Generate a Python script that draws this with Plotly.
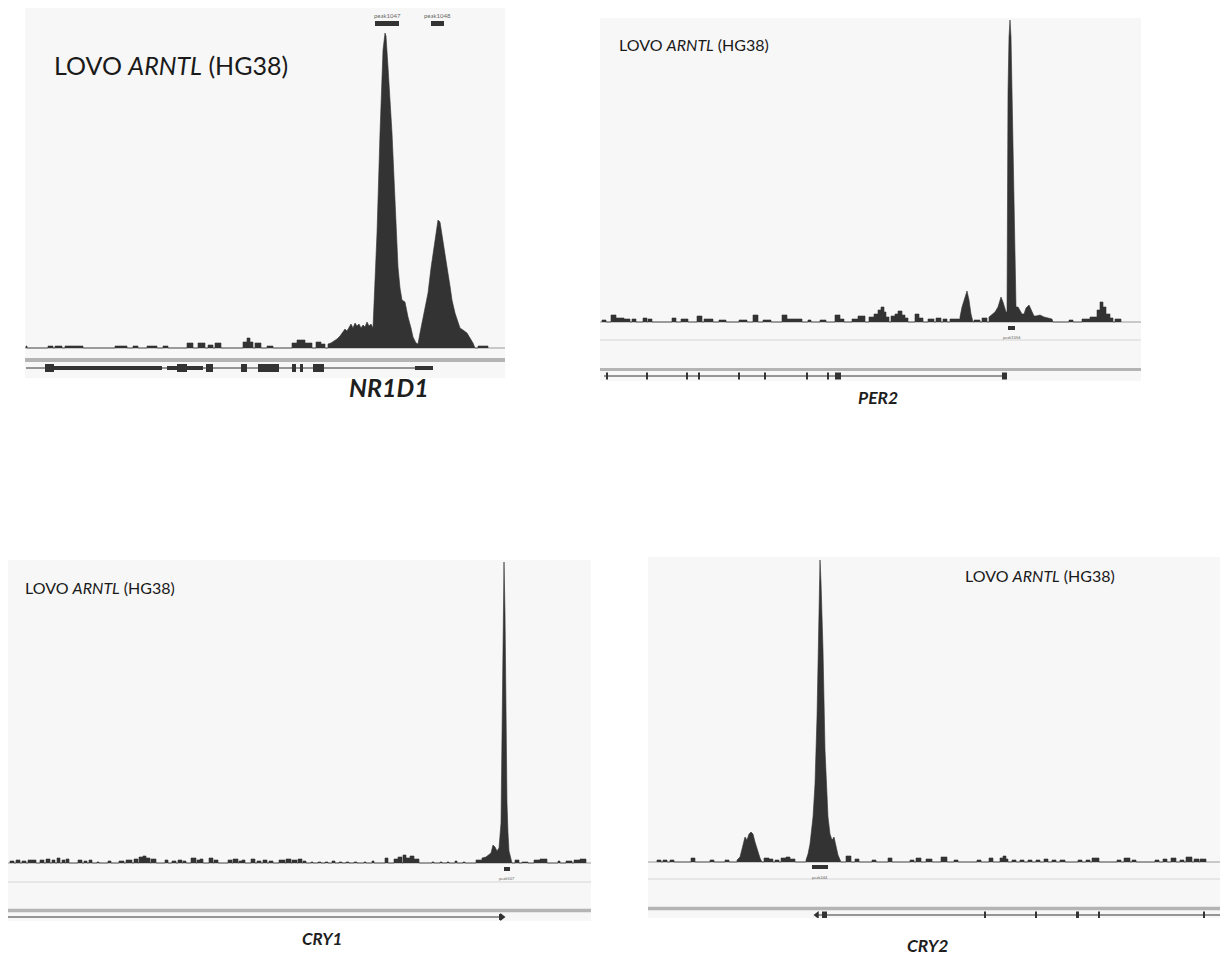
import plotly.graph_objects as go

W, H = 1228, 957
OFF = 8                      # page body margin added by the browser
FW, FH = W - OFF, H - OFF    # figure size so that the page lines up with the target

# ---------------------------------------------------------------- DATA
# positions = offset inside each browser window (units of 100 bp)
# coverage  = ChIP-seq pile-up (arbitrary units)
TITLE = "LOVO <i>ARNTL</i> (HG38)"
GENES = ["NR1D1", "PER2", "CRY1", "CRY2"]

# --- NR1D1 window
NR1D1_BLOCKS = [(1, 2, 2), (23, 28, 2), (30, 37, 2), (40, 58, 2), (90, 102, 2), (108, 113, 2),
                (122, 132, 2), (138, 143, 2), (162, 168, 5), (173, 180, 5), (183, 188, 3),
                (190, 196, 5), (218, 222, 6), (222, 225, 10), (225, 228, 6), (230, 236, 5),
                (242, 248, 2), (267, 272, 5), (272, 280, 8), (280, 287, 5), (291, 296, 6),
                (296, 300, 4), (453, 463, 2)]
NR1D1_PEAK_POS = [303, 306, 309, 312, 315, 318, 320, 322, 324, 326,
                  328, 330, 332, 334, 336, 338, 340, 342, 344, 346,
                  348, 349, 352, 355, 358, 360, 361, 363, 367, 370,
                  373, 375, 377, 380, 383, 386, 388, 391, 393, 395,
                  397, 400, 403, 406, 408, 411, 413, 415, 418, 422,
                  425, 427, 430, 433, 435, 438, 442, 445, 448, 450]
NR1D1_PEAK_COV = [4, 5, 7, 9, 12, 16, 19, 17, 21, 24,
                  20, 25, 22, 24, 20, 23, 21, 26, 22, 24,
                  20, 40, 115, 215, 298, 315, 312, 281, 215, 148,
                  81, 60, 48, 46, 31, 20, 11, 5, 4, 15,
                  25, 40, 55, 80, 95, 115, 128, 126, 105, 81,
                  62, 48, 35, 25, 20, 18, 15, 10, 5, 0]
NR1D1_CALLS = [("peak1047", 350, 374), ("peak1048", 406, 419)]
NR1D1_SPAN = (1, 408)
NR1D1_EXONS = [(20, 29), (152, 162), (181, 188), (216, 222), (233, 254), (267, 271),
               (275, 278), (288, 299)]
NR1D1_UTRS = [(29, 137), (142, 152), (162, 178), (390, 408)]

# --- PER2 window
PER2_BLOCKS = [(2, 6, 2), (11, 16, 7), (16, 24, 4), (24, 30, 3), (32, 36, 3), (43, 47, 4),
               (48, 52, 3), (72, 76, 4), (81, 88, 3), (97, 102, 6), (104, 113, 3),
               (119, 126, 2), (139, 147, 2), (153, 158, 7), (163, 171, 2), (182, 187, 7),
               (187, 202, 3), (208, 211, 2), (220, 226, 2), (235, 240, 7), (240, 244, 3),
               (252, 258, 3), (258, 265, 6), (269, 274, 5), (274, 278, 8), (278, 281, 12),
               (281, 284, 15), (284, 286, 10), (286, 289, 5), (291, 295, 6), (295, 298, 8),
               (298, 302, 11), (302, 305, 7), (305, 308, 4), (315, 319, 8), (319, 323, 4),
               (328, 334, 3), (336, 341, 4), (343, 347, 3), (350, 360, 3), (469, 473, 2),
               (482, 490, 3), (490, 497, 5), (497, 500, 12), (500, 503, 20), (503, 506, 15),
               (506, 510, 8), (510, 513, 4), (515, 521, 3)]
PER2_PEAK_POS = [360, 362, 365, 367, 369, 371, 373, 374, 374, 380,
                 380, 382, 382, 387, 387, 389, 389, 392, 395, 398,
                 401, 403, 405, 406, 407, 407.5, 408, 409, 410, 411,
                 412, 413, 414, 415, 416, 418, 420, 422, 424, 426,
                 429, 432, 434, 436, 440, 444, 448, 452, 453]
PER2_PEAK_COV = [5, 15, 25, 31, 22, 8, 0, 0, 2, 2,
                 0, 0, 4, 4, 0, 0, 5, 8, 10, 15,
                 25, 20, 12, 10, 10, 150, 230, 285, 302, 285,
                 230, 180, 140, 60, 15, 15, 12, 8, 8, 14,
                 17, 10, 6, 6, 7, 5, 4, 3, 0]
PER2_CALLS = [("peak1056", 408, 415)]
PER2_SPAN = (4, 405)
PER2_EXONS = [(6, 8), (46, 48), (86, 88), (98, 100), (138, 140), (164, 166), (206, 208),
              (227, 229), (235, 241), (402, 407)]

# --- CRY1 window
CRY1_BLOCKS = [(2, 6, 2), (8, 12, 3), (14, 18, 2), (20, 28, 3), (32, 36, 3), (38, 42, 4),
               (44, 47, 3), (49, 52, 5), (54, 57, 3), (58, 61, 4), (70, 74, 3), (76, 79, 2),
               (81, 84, 3), (89, 91, 1), (100, 103, 2), (111, 116, 2), (118, 124, 3),
               (126, 130, 4), (131, 135, 6), (135, 138, 7), (138, 142, 5), (143, 148, 4),
               (157, 160, 3), (164, 168, 2), (170, 174, 3), (175, 178, 2), (183, 188, 5),
               (189, 192, 3), (192, 195, 4), (201, 205, 5), (206, 210, 3), (220, 224, 3),
               (225, 230, 4), (231, 234, 2), (234, 237, 3), (243, 247, 4), (249, 253, 2),
               (255, 259, 3), (261, 265, 2), (271, 277, 3), (278, 283, 4), (284, 289, 3),
               (290, 294, 4), (295, 298, 2), (303, 305, 1), (310, 313, 1), (317, 320, 1),
               (324, 327, 2), (331, 334, 1), (338, 341, 1), (346, 349, 1), (356, 358, 1),
               (364, 366, 2), (377, 380, 5), (386, 390, 4), (390, 394, 6), (395, 398, 8),
               (398, 402, 5), (402, 406, 7), (406, 411, 4), (424, 426, 1), (432, 434, 1),
               (439, 441, 1), (447, 449, 2), (455, 457, 1), (507, 511, 3), (514, 520, 1),
               (526, 532, 3), (532, 539, 4), (550, 552, 2), (558, 564, 2), (566, 572, 3),
               (572, 578, 4)]
CRY1_PEAK_POS = [468, 474, 474, 478, 481, 483, 485, 487, 489, 491, 493,
                 494, 495, 496, 497, 498, 499, 500, 501, 503, 504]
CRY1_PEAK_COV = [3, 3, 5, 6, 8, 10, 18, 16, 12, 15, 40,
                 120, 230, 301, 250, 150, 60, 30, 12, 4, 0]
CRY1_CALLS = [("peak507", 496, 502)]
CRY1_SPAN = (0, 494)
CRY1_EXONS = [(491, 494)]

# --- CRY2 window
CRY2_BLOCKS = [(9, 13, 2), (15, 19, 2), (22, 26, 2), (43, 47, 4), (62, 66, 2), (77, 81, 2),
               (116, 121, 4), (121, 125, 3), (127, 131, 2), (133, 138, 4), (138, 142, 5),
               (142, 147, 3), (198, 203, 6), (207, 211, 3), (224, 228, 2), (240, 244, 4),
               (262, 266, 2), (268, 273, 4), (278, 284, 3), (293, 299, 5), (306, 310, 2),
               (329, 333, 2), (341, 345, 4), (352, 355, 4), (355, 358, 6), (358, 360, 3),
               (364, 368, 2), (372, 376, 2), (380, 384, 2), (388, 392, 2), (396, 400, 3),
               (404, 408, 2), (412, 417, 2), (430, 434, 2), (438, 442, 2), (444, 451, 4),
               (469, 473, 2), (476, 482, 4), (484, 488, 2), (507, 511, 2), (515, 519, 3),
               (523, 528, 4), (532, 536, 2), (538, 544, 5), (546, 551, 3), (552, 558, 3)]
CRY2_BUMP_POS = [89, 92, 95, 97, 99, 101, 103, 105, 107, 110, 112, 114]
CRY2_BUMP_COV = [2, 5, 18, 25, 22, 28, 30, 28, 20, 10, 4, 0]
CRY2_PEAK_POS = [158, 160, 162, 165, 167, 169, 171, 172, 173, 175, 177, 180,
                 182, 184, 186, 188, 190, 193]
CRY2_PEAK_COV = [2, 8, 18, 45, 78, 145, 245, 302, 280, 212, 112, 45,
                 28, 22, 25, 14, 7, 0]
CRY2_CALLS = [("peak244", 164, 180)]
CRY2_SPAN = (169, 580)
CRY2_EXONS = [(174, 179), (336, 338), (387, 389), (428, 431), (450, 452), (555, 557)]

# ---------------------------------------------------------------- LAYOUT (page pixels)
PANELS = [
    dict(gene=GENES[0], blocks=NR1D1_BLOCKS, outlines=[(NR1D1_PEAK_POS, NR1D1_PEAK_COV)],
         calls=NR1D1_CALLS, span=NR1D1_SPAN, exons=NR1D1_EXONS, utrs=NR1D1_UTRS, arrow=None,
         left=25, right=505, top=8, bottom=378, base=348, gray=360, gray_w=4, sep=None,
         gene_y=368, exon_h=8, utr_h=4, call_y=23.5, call_h=5, call_lab=15, call_fs=6,
         title=(52, 65, 25), label=(389, 387, 25)),
    dict(gene=GENES[1], blocks=PER2_BLOCKS, outlines=[(PER2_PEAK_POS, PER2_PEAK_COV)],
         calls=PER2_CALLS, span=PER2_SPAN, exons=PER2_EXONS, utrs=[], arrow=None,
         left=600, right=1141, top=18, bottom=381, base=322, gray=369.5, gray_w=3, sep=340,
         gene_y=376, exon_h=7, utr_h=4, call_y=328, call_h=4, call_lab=337, call_fs=4,
         title=(617, 45, 16), label=(878, 397, 17.5)),
    dict(gene=GENES[2], blocks=CRY1_BLOCKS, outlines=[(CRY1_PEAK_POS, CRY1_PEAK_COV)],
         calls=CRY1_CALLS, span=CRY1_SPAN, exons=CRY1_EXONS, utrs=[], arrow="triangle-right",
         left=8, right=591, top=560, bottom=921, base=863, gray=910.5, gray_w=3.5, sep=882,
         gene_y=917, exon_h=6, utr_h=4, call_y=869, call_h=4, call_lab=878, call_fs=4,
         title=(23, 587, 16), label=(322, 938, 17)),
    dict(gene=GENES[3], blocks=CRY2_BLOCKS,
         outlines=[(CRY2_BUMP_POS, CRY2_BUMP_COV), (CRY2_PEAK_POS, CRY2_PEAK_COV)],
         calls=CRY2_CALLS, span=CRY2_SPAN, exons=CRY2_EXONS, utrs=[], arrow="triangle-left",
         left=648, right=1228, top=557, bottom=918, base=862, gray=908.5, gray_w=3.5, sep=879,
         gene_y=915, exon_h=7, utr_h=4, call_y=867, call_h=4, call_lab=877, call_fs=4,
         title=(963, 575, 16), label=(928, 945, 17.5)),
]

SIG = "#333333"
FONT = "Lato, 'Open Sans', sans-serif"


def px_x(px):
    return (px - OFF) / FW


def px_y(py):
    return 1 - (py - OFF) / FH


def signal_xy(blocks, outlines):
    pieces = []
    for s, e, c in blocks:
        pieces.append(([s, s, e, e], [0, c, c, 0]))
    for pos, cov in outlines:
        pieces.append(([pos[0]] + list(pos) + [pos[-1]], [0] + list(cov) + [0]))
    pieces.sort(key=lambda p: p[0][0])
    xs, ys = [], []
    for a, b in pieces:
        xs += a
        ys += b
    return xs, ys


fig = go.Figure()
shapes, annotations = [], []
layout_axes = {}

for i, p in enumerate(PANELS):
    k = "" if i == 0 else str(i + 1)
    xa, ya = "x" + k, "y" + k
    base = p["base"]

    def yv(py, base=base):
        return base - py

    layout_axes["xaxis" + k] = dict(
        domain=[px_x(p["left"]), min(1, px_x(p["right"]))], range=[0, p["right"] - p["left"]],
        anchor=ya, showgrid=False, zeroline=False, showticklabels=False, ticks="",
        showline=False, fixedrange=True)
    layout_axes["yaxis" + k] = dict(
        domain=[px_y(p["bottom"]), min(1, px_y(p["top"]))], range=[yv(p["bottom"]), yv(p["top"])],
        anchor=xa, showgrid=False, zeroline=False, showticklabels=False, ticks="",
        showline=False, fixedrange=True)

    # horizontal guide lines
    shapes.append(dict(type="line", xref=xa + " domain", yref=ya, x0=0, x1=1, y0=0, y1=0,
                       line=dict(color="#9a9a9a", width=1), layer="below"))
    shapes.append(dict(type="line", xref=xa + " domain", yref=ya, x0=0, x1=1,
                       y0=yv(p["gray"]), y1=yv(p["gray"]),
                       line=dict(color="#b4b4b4", width=p["gray_w"]), layer="below"))
    if p["sep"] is not None:
        shapes.append(dict(type="line", xref=xa + " domain", yref=ya, x0=0, x1=1,
                           y0=yv(p["sep"]), y1=yv(p["sep"]),
                           line=dict(color="#d6d6d6", width=1), layer="below"))

    # coverage signal
    sx, sy = signal_xy(p["blocks"], p["outlines"])
    fig.add_trace(go.Scatter(x=sx, y=sy, mode="lines", fill="tozeroy", fillcolor=SIG,
                             line=dict(color=SIG, width=0.6), xaxis=xa, yaxis=ya,
                             hoverinfo="skip", showlegend=False))

    # peak calls
    for name, s, e in p["calls"]:
        shapes.append(dict(type="rect", xref=xa, yref=ya, x0=s, x1=e,
                           y0=yv(p["call_y"]) - p["call_h"] / 2,
                           y1=yv(p["call_y"]) + p["call_h"] / 2,
                           fillcolor=SIG, line=dict(width=0)))
        annotations.append(dict(xref=xa, yref="paper", x=(s + e) / 2, y=px_y(p["call_lab"]),
                                text=name, showarrow=False, yanchor="middle",
                                font=dict(family=FONT, size=p["call_fs"], color="#666666")))

    # gene model
    gy = yv(p["gene_y"])
    s0, e0 = p["span"]
    fig.add_trace(go.Scatter(x=[s0, e0], y=[gy, gy], mode="lines",
                             line=dict(color=SIG, width=1), xaxis=xa, yaxis=ya,
                             hoverinfo="skip", showlegend=False))
    for s, e in p["exons"]:
        shapes.append(dict(type="rect", xref=xa, yref=ya, x0=s, x1=e,
                           y0=gy - p["exon_h"] / 2, y1=gy + p["exon_h"] / 2,
                           fillcolor=SIG, line=dict(width=0)))
    for s, e in p["utrs"]:
        shapes.append(dict(type="rect", xref=xa, yref=ya, x0=s, x1=e,
                           y0=gy - p["utr_h"] / 2, y1=gy + p["utr_h"] / 2,
                           fillcolor=SIG, line=dict(width=0)))
    if p["arrow"]:
        ax = e0 if p["arrow"] == "triangle-right" else s0
        fig.add_trace(go.Scatter(x=[ax], y=[gy], mode="markers",
                                 marker=dict(symbol=p["arrow"], size=7, color=SIG),
                                 xaxis=xa, yaxis=ya, hoverinfo="skip", showlegend=False))

    # texts
    tx, ty, tfs = p["title"]
    annotations.append(dict(xref="paper", yref="paper", x=px_x(tx), y=px_y(ty), text=TITLE,
                            xanchor="left", yanchor="middle", showarrow=False,
                            font=dict(family=FONT, size=tfs, color="#1a1a1a")))
    lx, ly, lfs = p["label"]
    annotations.append(dict(xref="paper", yref="paper", x=px_x(lx), y=px_y(ly),
                            text="<b><i>" + p["gene"] + "</i></b>",
                            xanchor="center", yanchor="middle", showarrow=False,
                            font=dict(family=FONT, size=lfs, color="#1e1e1e")))

fig.update_layout(width=FW, height=FH, margin=dict(l=0, r=0, t=0, b=0),
                  paper_bgcolor="white", plot_bgcolor="#f7f7f7", showlegend=False,
                  shapes=shapes, annotations=annotations, **layout_axes)

fig.write_html("out.html")
